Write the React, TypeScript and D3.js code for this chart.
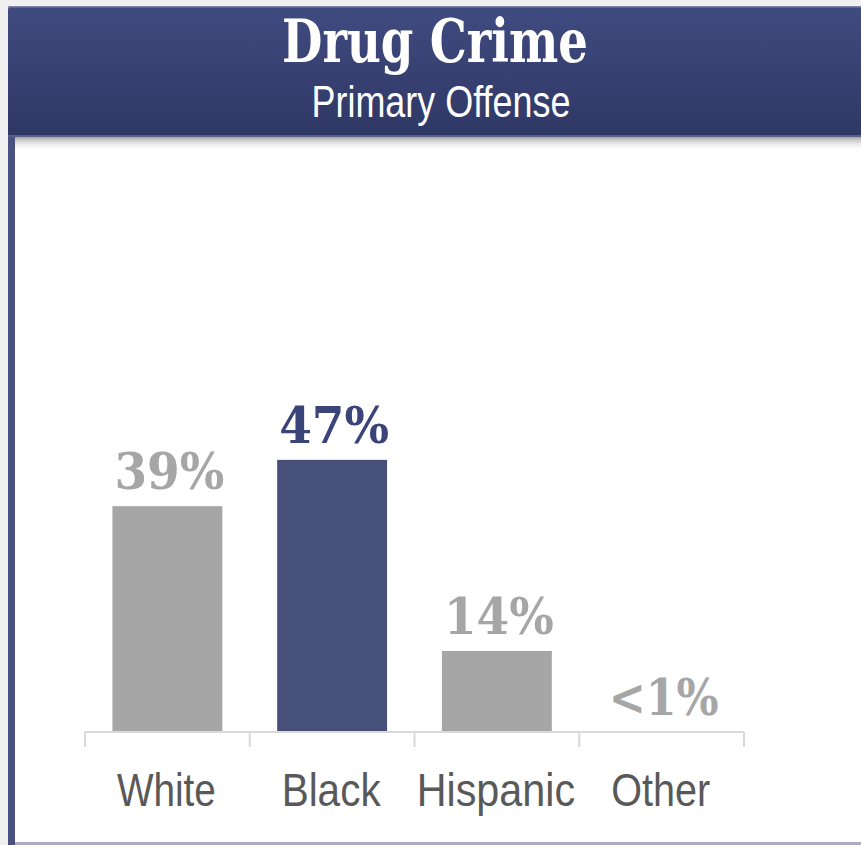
import React from "react";
import * as d3 from "d3";

const categories = ["White", "Black", "Hispanic", "Other"];
const values = [39, 47, 14, 0];
const valueLabels = ["39%", "47%", "14%", "<1%"];
const highlighted = ["Black"];
const title = "Drug Crime";
const subtitle = "Primary Offense";

const W = 861;
const H = 845;

export default function App() {
  const x = d3.scaleBand<string>().domain(categories).range([85, 744]).paddingInner(0.333).paddingOuter(0.1665);
  const y = d3.scaleLinear().domain([0, 100]).range([732, 153]);
  const step = x.step();
  const boundaries = d3.range(categories.length + 1).map((i) => 85 + i * step);
  const serif = "'DejaVu Serif', 'Liberation Serif', serif";
  const narrow = "'Liberation Sans Narrow', 'Liberation Sans', Arial, sans-serif";
  // approximate rendered widths of the condensed category labels
  const catWidth = (c: string) => c.length * 19.8;
  return (
    <svg width={W} height={H} style={{ position: "absolute", left: 0, top: 0, display: "block" }}>
      <defs>
        <linearGradient id="hdr" x1="0" y1="0" x2="0" y2="1">
          <stop offset="0" stopColor="#404b80" />
          <stop offset="1" stopColor="#2f3764" />
        </linearGradient>
        <linearGradient id="shadow" x1="0" y1="0" x2="0" y2="1">
          <stop offset="0" stopColor="#9a9a9a" stopOpacity={0.9} />
          <stop offset="1" stopColor="#ffffff" stopOpacity={0} />
        </linearGradient>
      </defs>
      <rect x={0} y={0} width={W} height={H} fill="#f0f0f0" />
      <rect x={8} y={130} width={W - 8} height={H - 130} fill="#ffffff" />
      <rect x={14} y={137} width={W - 14} height={14} fill="url(#shadow)" />
      <rect x={8} y={130} width={7} height={H - 130} fill="#4a5180" />
      <rect x={15} y={842} width={W - 15} height={3} fill="#a9acc6" />
      <rect x={8} y={6} width={W + 10} height={131} rx={4} fill="url(#hdr)" />
      <rect x={8} y={6} width={W + 10} height={1.5} fill="#7d82a6" />
      <rect x={8} y={135} width={W} height={2} fill="#5a6088" />
      <text x={435} y={62} textAnchor="middle" fill="#ffffff" fontFamily={serif} fontWeight="bold" fontSize={60} textLength={306} lengthAdjust="spacingAndGlyphs">
        {title}
      </text>
      <text x={441} y={117} textAnchor="middle" fill="#ffffff" fontFamily={narrow} fontSize={44} textLength={259} lengthAdjust="spacingAndGlyphs">
        {subtitle}
      </text>
      {categories.map((c, i) => {
        const hi = highlighted.includes(c);
        const bx = x(c)!;
        const cx = bx + x.bandwidth() / 2;
        return (
          <g key={c}>
            <rect x={bx} y={y(values[i])} width={x.bandwidth()} height={y(0) - y(values[i])} fill={hi ? "#475078" : "#a6a6a6"} />
            <text x={cx + 2} y={y(values[i]) - 17} textAnchor="middle" fill={hi ? "#3a4479" : "#a6a6a6"} fontFamily={serif} fontWeight="bold" fontSize={51} textLength={110} lengthAdjust="spacingAndGlyphs">
              {valueLabels[i]}
            </text>
            <text x={cx - 1} y={806} textAnchor="middle" fill="#595959" fontFamily={narrow} fontSize={47} textLength={catWidth(c)} lengthAdjust="spacingAndGlyphs">
              {c}
            </text>
          </g>
        );
      })}
      <line x1={85} x2={744} y1={y(0)} y2={y(0)} stroke="#d9d9d9" strokeWidth={2} />
      {boundaries.map((b, i) => (
        <line key={i} x1={b} x2={b} y1={y(0)} y2={747} stroke="#d9d9d9" strokeWidth={2} />
      ))}
    </svg>
  );
}
